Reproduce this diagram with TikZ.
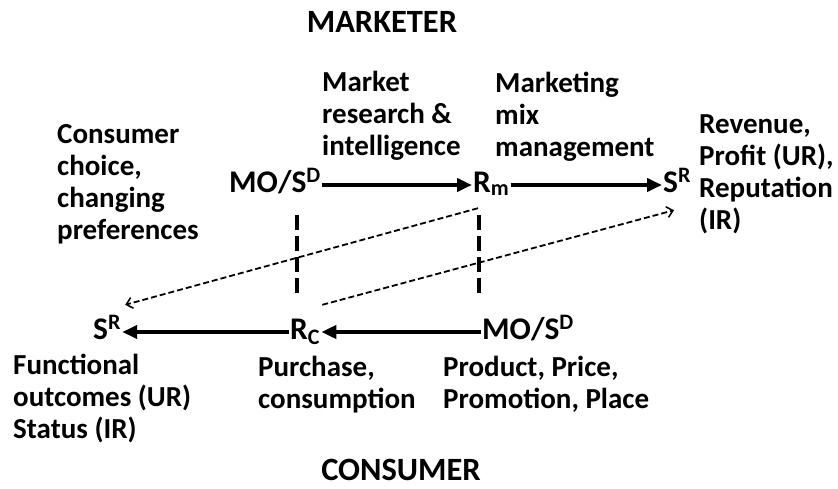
\documentclass[tikz,border=0pt]{standalone}
\usepackage{fontspec}
\setmainfont{Carlito}
\usetikzlibrary{arrows.meta}
\tikzset{
  sym/.style={font=\fontsize{31.5}{33}\selectfont\bfseries, anchor=base west, inner xsep=1pt, inner ysep=2pt, text height=22pt, text depth=8pt},
  lbl/.style={font=\fontsize{29}{31.8}\selectfont\bfseries, align=left, anchor=base west, inner sep=0pt},
  head/.style={font=\fontsize{32.5}{34}\selectfont\bfseries, anchor=base, inner sep=0pt},
  flow/.style={line width=4pt, -{Triangle[length=15pt,width=13pt]}},
  link/.style={line width=1.8pt, dash pattern=on 6pt off 3pt, -{Straight Barb[length=6pt,width=11pt,line width=1.5pt]}},
  divide/.style={line width=4.5pt, dash pattern=on 15pt off 6pt}
}
\begin{document}
\begin{tikzpicture}[x=1pt,y=-1pt]
      \useasboundingbox (0,0) rectangle (838,488);
      \node[head] (marketer) at (382,32) {MARKETER};
      \node[head] (consumer) at (401,480) {CONSUMER};
      \node[sym] (mosd) at (228,192) {MO/S\textsuperscript{D}};
      \node[sym] (rm) at (472,192) {R\textsubscript{m}};
      \node[sym] (srm) at (662,192) {S\textsuperscript{R}};
      \node[sym] (src) at (92,339) {S\textsuperscript{R}};
      \node[sym] (rc) at (289,339) {R\textsubscript{C}};
      \node[sym] (mosc) at (481,339) {MO/S\textsuperscript{D}};
      \node[lbl] (research) at (322,155) {Market\\research \&\\intelligence};
      \node[lbl] (mixmgmt) at (495,156) {Marketing\\mix\\management};
      \node[lbl] (choice) at (57,239) {Consumer\\choice,\\changing\\preferences};
      \node[lbl] (revenue) at (699,229) {Revenue,\\Profit (UR),\\Reputation\\(IR)};
      \node[lbl] (outcomes) at (13,438) {Functional\\outcomes (UR)\\Status (IR)};
      \node[lbl] (purchase) at (258,408) {Purchase,\\consumption};
      \node[lbl] (fourp) at (443,408) {Product, Price,\\Promotion, Place};
      \draw[flow] (mosd) -- (rm);
      \draw[flow] (rm) -- (srm);
      \draw[flow] (mosc) -- (rc);
      \draw[flow] (rc) -- (src);
      \draw[divide] (297,215) -- (297,295);
      \draw[divide] (479,215) -- (479,295);
      \draw[link] ([xshift=6pt,yshift=-6pt]rm.south west) -- ([xshift=3pt,yshift=10pt]src.north east);
      \draw[link] ([xshift=1pt,yshift=10pt]rc.north east) -- ([xshift=12pt,yshift=-8pt]srm.south west);
\end{tikzpicture}
\end{document}
